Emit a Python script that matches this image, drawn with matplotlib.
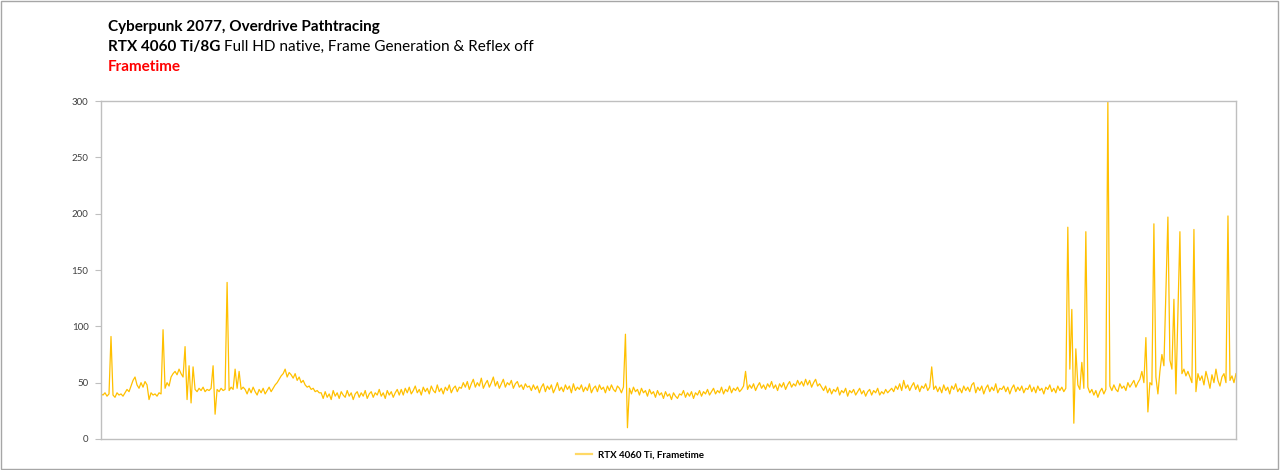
import numpy as np
import matplotlib
matplotlib.use('Agg')
import matplotlib.pyplot as plt
from matplotlib.lines import Line2D
from matplotlib.patches import Rectangle

# frametime in ms from left to right
frametime_ms = [
    40, 39, 41, 38, 40, 91, 39, 37, 41, 39, 40, 38, 41,
    44, 42, 47, 52, 55, 48, 45, 50, 46, 51, 48,
    35, 41, 39, 40, 38, 41, 40,
    97, 45, 50, 47, 55, 58, 60, 57, 62, 58, 55,
    82, 35, 65, 32,
    64, 44, 42, 45, 43, 46, 42, 44, 43, 45,
    65, 22, 44, 42, 45, 43, 44,
    139, 43, 46, 44, 62, 45, 60, 44, 46,
    44, 40, 45, 41, 46, 42, 39, 44, 41, 45, 40, 43, 46, 42, 45,
    48, 50, 53, 56, 58, 62, 55, 59, 57, 54, 58, 52, 55,
    50, 52, 48, 46, 47, 44, 45, 42, 43, 41,
    41, 36, 42, 37, 40, 35, 43, 38, 41, 36, 42, 39, 37, 43, 38, 41, 35, 40, 42, 37,
    41, 38, 43, 36, 40, 42, 37, 41, 39, 44, 38, 41, 36, 43, 39, 42, 37, 41, 44, 39,
    44, 39, 45, 41, 46, 40, 43, 47, 41, 44, 39, 46, 42, 45, 40,
    47, 43, 41, 48, 42, 45, 40, 46, 43, 48, 41, 45, 47, 42, 46,
    45, 50, 46, 51, 44, 49, 53, 46, 50, 47, 54, 45, 49, 52, 46, 50, 55, 47,
    51, 45, 49, 53, 46, 50, 48, 52, 45, 49, 51, 46, 48, 44, 49, 46, 47,
    43, 48, 44, 47, 41, 46, 49, 42, 47, 44, 48, 41, 45, 50, 43, 46, 42, 48, 44, 47, 41, 49, 43,
    46, 44, 48, 42, 46, 43, 49, 41, 45, 47, 42, 48, 44, 46, 41, 47, 43, 48, 44, 42, 47, 45, 41, 46,
    93, 10,
    45, 40, 46, 42, 44, 39, 45, 41, 43, 38, 44, 40, 42, 37, 43, 39, 41, 36, 42, 38, 40, 35, 41, 38, 36, 40,
    39, 43, 37, 41, 38, 42, 36, 41, 39, 43, 38, 42, 40, 44, 39, 42,
    45, 40, 43, 41, 46, 40, 44, 42, 47, 41, 45, 43, 46, 42, 44, 47,
    60,
    44, 48, 45, 49, 43, 47, 50, 45, 48, 44, 49, 46, 51, 45, 48, 43, 49, 46, 50, 44, 48, 51, 46, 49, 47, 52, 48,
    51, 47, 53, 48, 52, 46, 50, 53, 47, 49,
    46, 43, 47, 41, 45, 40, 44, 42, 46, 39, 43, 41, 45, 38, 43, 41, 44, 39,
    42, 45, 40, 43, 38, 42, 44, 39, 43, 41, 45, 39, 42, 40, 44, 41, 43,
    45, 42, 47, 44, 49, 43, 52, 45, 48, 43, 47, 50, 44, 48, 42, 47, 45, 49, 43, 46,
    64,
    44, 47, 42, 46, 41, 48, 43, 46, 40, 47, 44, 49, 42, 45, 41, 47, 43, 46, 42, 48, 50, 41,
    46, 43, 47, 40, 45, 48, 42, 46, 43, 49, 41, 45, 44, 47, 42, 46, 40, 45, 48, 42, 46, 43,
    47, 41, 45, 44, 48, 42, 46, 41, 47, 43, 45, 40, 46, 44, 48, 42, 45, 41, 47, 43, 46, 42, 45,
    188, 62, 115, 14, 80, 48, 44, 68, 45, 184,
    46, 41, 44, 39, 43, 37, 42, 45, 40, 44,
    300,
    47, 43, 48, 44, 42, 49, 45, 47, 43, 50, 46, 49, 52, 46, 50, 53, 60, 50,
    90, 24, 50, 48, 191, 55, 40, 60, 75, 65, 130, 197, 70, 62, 124, 40, 112, 184, 58, 62,
    56, 60, 55, 50, 186, 42, 58, 52, 56, 48, 60, 53, 45, 57, 50, 62, 52, 47, 55, 58,
    50, 198, 52, 56, 50, 58,
]
yticks = [0, 50, 100, 150, 200, 250, 300]
series_label = 'RTX 4060 Ti, Frametime'

line_color = '#FFC000'
spine_color = '#BFBFBF'

plt.rcParams['font.family'] = ['Lato', 'DejaVu Sans']

fig = plt.figure(figsize=(12.8, 4.7), dpi=100)
ax = fig.add_axes([0.0789, 0.066, 0.8867, 0.719])

x = np.arange(len(frametime_ms))
ax.plot(x, frametime_ms, color=line_color, lw=0.9)

ax.set_xlim(0, len(frametime_ms) - 1)
ax.set_ylim(0, 300)
ax.set_yticks(yticks)
ax.set_xticks([])
ax.tick_params(axis='y', labelsize=7, labelcolor='#404040', length=4, width=0.8,
               color=spine_color, pad=5)
for s in ax.spines.values():
    s.set_color(spine_color)
    s.set_linewidth(1)

# titles
title_size = 11
fig.text(108 / 1280, 1 - 27 / 470, 'Cyberpunk 2077, Overdrive Pathtracing',
         fontsize=title_size, fontweight='bold', va='center', ha='left')
t_bold = fig.text(108 / 1280, 1 - 47 / 470, 'RTX 4060 Ti/8G',
                  fontsize=title_size, fontweight='bold', va='center', ha='left')
fig.canvas.draw()
bb = t_bold.get_window_extent(fig.canvas.get_renderer())
fig.text(bb.x1 / fig.bbox.width + 0.003, 1 - 47 / 470,
         'Full HD native, Frame Generation & Reflex off',
         fontsize=title_size, va='center', ha='left')
fig.text(108 / 1280, 1 - 67 / 470, 'Frametime', fontsize=title_size,
         fontweight='bold', color='#FF0000', va='center', ha='left')

# legend
handle = Line2D([0], [0], color='#FFD966', lw=1.6)
fig.legend([handle], [series_label], loc='center', bbox_to_anchor=(0.5, 1 - 455 / 470),
           frameon=False, handlelength=1.6, handletextpad=0.6,
           prop={'size': 7, 'weight': 'bold'})

# outer chart border
fig.patches.append(Rectangle((0.0005, 0.003), 0.998, 0.995, transform=fig.transFigure,
                             fill=False, edgecolor='#A6A6A6', lw=1))

fig.savefig('out.png', dpi=100)
